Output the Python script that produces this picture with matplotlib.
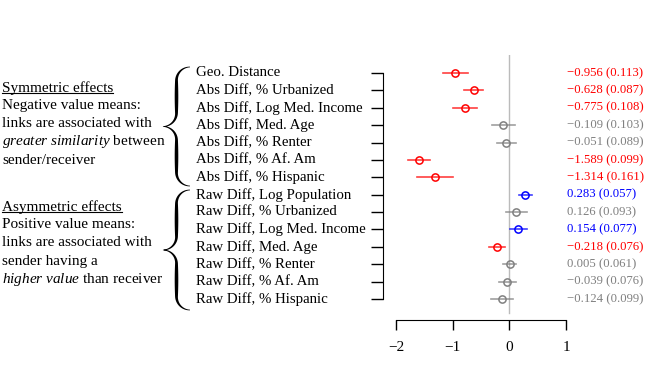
import numpy as np
import matplotlib.pyplot as plt
from matplotlib.patches import Polygon
from matplotlib.transforms import blended_transform_factory

plt.rcParams['font.family'] = ['Liberation Serif', 'DejaVu Serif']
plt.rcParams['mathtext.fontset'] = 'custom'
plt.rcParams['mathtext.rm'] = 'Liberation Serif'
plt.rcParams['mathtext.it'] = 'Liberation Serif:italic'

# ---------------------------------------------------------------------------
# DATA (estimates and standard errors, top row first)
# ---------------------------------------------------------------------------
labels = [
    "Geo. Distance",
    "Abs Diff, % Urbanized",
    "Abs Diff, Log Med. Income",
    "Abs Diff, Med. Age",
    "Abs Diff, % Renter",
    "Abs Diff, % Af. Am",
    "Abs Diff, % Hispanic",
    "Raw Diff, Log Population",
    "Raw Diff, % Urbanized",
    "Raw Diff, Log Med. Income",
    "Raw Diff, Med. Age",
    "Raw Diff, % Renter",
    "Raw Diff, % Af. Am",
    "Raw Diff, % Hispanic",
]
est = np.array([-0.956, -0.628, -0.775, -0.109, -0.051, -1.589, -1.314,
                0.283, 0.126, 0.154, -0.218, 0.005, -0.039, -0.124])
se = np.array([0.113, 0.087, 0.108, 0.103, 0.089, 0.099, 0.161,
               0.057, 0.093, 0.077, 0.076, 0.061, 0.076, 0.099])
xticks = [-2, -1, 0, 1]

W, H = 648, 366


def fx(px):
    return px / W


def fy(py):
    return 1 - py / H


def color_for(e, s):
    if e + 1.96 * s < 0:
        return "#FF0000"
    if e - 1.96 * s > 0:
        return "#0000FF"
    return "#808080"


def brace(fig, x_tip, x_end, y_top, y_bot, lw_max=3.6, lw_min=0.7):
    """Filled curly brace opening to the right, coords in pixels (y down)."""
    r = (x_end - x_tip) / 2.0
    xs = x_tip + r
    ym = (y_top + y_bot) / 2.0
    pts = []
    th = np.linspace(np.pi / 2, np.pi, 20)
    pts += list(zip(xs + r + r * np.cos(th), y_top + r - r * np.sin(th)))
    pts += list(zip([xs] * 10, np.linspace(y_top + r, ym - r, 10)))
    th = np.linspace(0, np.pi / 2, 20)
    pts += list(zip(xs - r + r * np.cos(th), ym - r + r * np.sin(th)))
    top = np.array(pts)
    bot = top[::-1].copy()
    bot[:, 1] = 2 * ym - bot[:, 1]
    c = np.vstack([top, bot[1:]])
    seg = np.r_[0, np.cumsum(np.hypot(*np.diff(c, axis=0).T))]
    half = seg[-1] / 2
    s = np.where(seg <= half, seg / half, (seg - half) / half)
    w = lw_min + (lw_max - lw_min) * np.sin(np.pi * s) ** 1.2
    d = np.gradient(c, axis=0)
    n = np.column_stack([-d[:, 1], d[:, 0]])
    n /= np.hypot(n[:, 0], n[:, 1])[:, None]
    left = c + n * w[:, None] / 2
    right = c - n * w[:, None] / 2
    poly = np.vstack([left, right[::-1]])
    poly = np.column_stack([fx(poly[:, 0]), fy(poly[:, 1])])
    fig.patches.append(Polygon(poly, closed=True, transform=fig.transFigure,
                               facecolor="black", edgecolor="none"))


# ---------------------------------------------------------------------------
# PLOT
# ---------------------------------------------------------------------------
fig = plt.figure(figsize=(W / 100, H / 100), dpi=100)

ax_l, ax_r, ax_t, ax_b = 383, 566, 55, 320
ax = fig.add_axes([fx(ax_l), fy(ax_b), fx(ax_r - ax_l), (ax_b - ax_t) / H])

n = len(est)
ypos = np.arange(n, 0, -1)
x_per_px = 3.0 / (566 - 396)
ax.set_xlim(-2 - (396 - ax_l) * x_per_px, 1)
y_per_px = (n - 1) / (299 - 73)
ax.set_ylim(1 - (ax_b - 299) * y_per_px, n + (73 - ax_t) * y_per_px)

ax.axvline(0, ymin=(ax_b - 313) / (ax_b - ax_t), color="#BBBBBB", lw=1.0, zorder=0)

for e, s, y in zip(est, se, ypos):
    c = color_for(e, s)
    ax.plot([e - 1.96 * s, e + 1.96 * s], [y, y], color=c, lw=1.2, alpha=0.75)
    ax.plot(e, y, "o", mfc="none", mec=c, mew=1.1, ms=5.2)
    ax.text(1.0 + (567 - 566) * x_per_px, y, f"{e:.3f} ({s:.3f})".replace("-", "\u2212"),
            color=c, fontsize=9.2, va="center", ha="left", clip_on=False)

for sp in ["top", "right"]:
    ax.spines[sp].set_visible(False)
ax.spines["left"].set_bounds(1, n)
ax.spines["bottom"].set_bounds(-2, 1)
ax.set_xticks(xticks)
ax.set_xticklabels([str(t).replace("-", "\u2212") for t in xticks], fontsize=11)
ax.set_yticks(ypos)
ax.set_yticklabels([])
ax.tick_params(length=7, width=1.0, pad=8)
ax.tick_params(axis="y", length=9)

tr = blended_transform_factory(fig.transFigure, ax.transData)
for lab, y in zip(labels, ypos):
    ax.text(fx(196), y, lab, transform=tr, fontsize=10.7, va="center", ha="left")

brace(fig, 163, 190, 67, 186)
brace(fig, 163, 190, 190, 310)

left_lines = [
    (88, "Symmetric effects"),
    (106, "Negative value means:"),
    (124, "links are associated with"),
    (142, r"$\mathit{greater\ similarity}$ between"),
    (160, "sender/receiver"),
    (207, "Asymmetric effects"),
    (225, "Positive value means:"),
    (243, "links are associated with"),
    (261, "sender having a"),
    (279, r"$\mathit{higher\ value}$ than receiver"),
]
heads = []
for py, txt in left_lines:
    t = fig.text(fx(2), fy(py), txt, fontsize=11, va="center", ha="left")
    if "effects" in txt:
        heads.append(t)

fig.canvas.draw()
rend = fig.canvas.get_renderer()
for t in heads:
    bb = t.get_window_extent(rend)
    yy = bb.y0 + 1.5
    fig.add_artist(plt.Line2D([bb.x0 / W, bb.x1 / W], [yy / H, yy / H],
                              transform=fig.transFigure, color="black", lw=0.8))

plt.savefig("out.png", dpi=100)
